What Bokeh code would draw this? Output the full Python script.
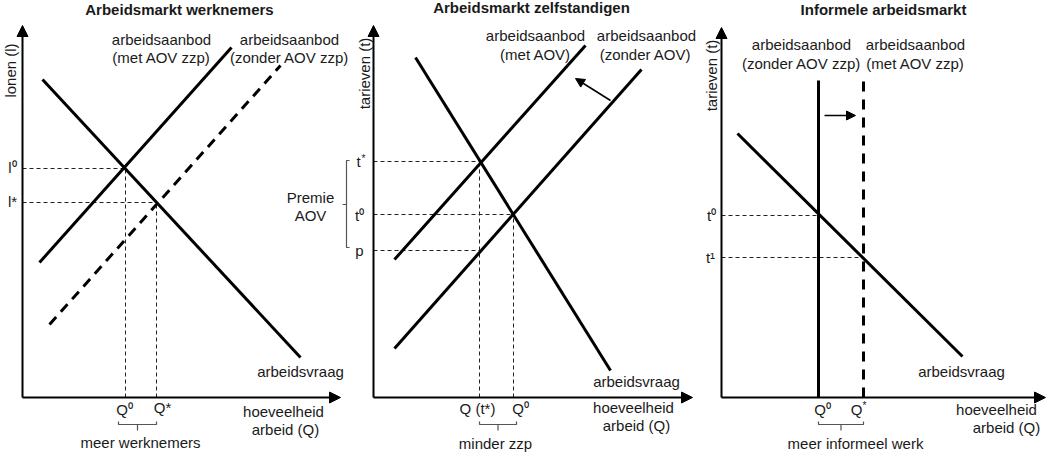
from bokeh.plotting import figure
from bokeh.models import Range1d, Arrow, NormalHead
from bokeh.core.properties import value
from bokeh.embed import file_html
from bokeh.resources import INLINE
import math

# ---------------- data (local units per panel: Q to the right, price up) ----------------
# Panel 1: Arbeidsmarkt werknemers
p1_demand_q = [20, 278]
p1_demand_l = [318, 40]
p1_supply_met_q = [17, 209]
p1_supply_met_l = [135, 350]
p1_supply_zonder_q = [27, 258]
p1_supply_zonder_l = [73, 332]
p1_eq_q = [103, 134]          # Q0, Q*
p1_eq_l = [229, 195]          # l0, l*
p1_eq_l_labels = ["l\u2070", "l*"]
p1_eq_q_labels = ["Q\u2070", "Q*"]

# Panel 2: Arbeidsmarkt zelfstandigen
p2_demand_q = [42, 237]
p2_demand_t = [340, 27]
p2_supply_met_q = [21, 212]
p2_supply_met_t = [138, 352]
p2_supply_zonder_q = [21, 268]
p2_supply_zonder_t = [49, 328]
p2_levels_t = [236, 183, 147]  # t*, t0, p
p2_levels_q = [106, 140, 106]
p2_shift_q = [237, 202]
p2_shift_t = [297, 319]

# Panel 3: Informele arbeidsmarkt
p3_demand_q = [16, 241]
p3_demand_t = [264, 41]
p3_supply_zonder_q = [97, 97]
p3_supply_zonder_t = [0, 317]
p3_supply_met_q = [142, 142]
p3_supply_met_t = [0, 320]
p3_levels_t = [182, 140]       # t0, t1
p3_levels_q = [97, 142]        # Q0, Q*
p3_shift_q = [103, 134]
p3_shift_t = [282, 282]

# ---------------- figure ----------------
W, H = 1046, 454
p = figure(width=W, height=H, x_range=Range1d(0, W), y_range=Range1d(0, H),
           output_backend="svg", toolbar_location=None, min_border=0)
p.axis.visible = False
p.grid.visible = False
p.outline_line_color = None

FONT = "Liberation Sans"
TXT = "#1a1a1a"
GRAY = "#555555"
YSHIFT = 5  # lift everything a little so the bottom texts fit the frame

def px(x):
    return x - 8

def py(y):
    return 462 - (y - YSHIFT)

origins = {1: (30, 410), 2: (381, 410), 3: (729, 410)}

def tf(panel, q, v):
    ox, oy = origins[panel]
    return [px(ox) + a for a in q], [py(oy) + b for b in v]

def curve(panel, q, v, dash="solid", width=3):
    xs, ys = tf(panel, q, v)
    p.line(xs, ys, line_width=width, line_color="black", line_dash=dash)

def thin_dash(panel, q, v):
    xs, ys = tf(panel, q, v)
    p.line(xs, ys, line_width=1, line_color="#222222", line_dash="4 3")

def axes(panel, xmax, ymax):
    ox, oy = origins[panel]
    X0, Y0 = px(ox), py(oy)
    for (xe, ye) in [(X0, Y0 + ymax), (X0 + xmax, Y0)]:
        p.add_layout(Arrow(x_start=X0, y_start=Y0, x_end=xe, y_end=ye, line_width=2,
                           line_color="black",
                           end=NormalHead(size=11, fill_color="black", line_color="black")))

def shift_arrow(panel, q, v):
    xs, ys = tf(panel, q, v)
    p.add_layout(Arrow(x_start=xs[0], y_start=ys[0], x_end=xs[1], y_end=ys[1], line_width=1.5,
                       line_color="black",
                       end=NormalHead(size=9, fill_color="black", line_color="black")))

def txt(x, y, s, size=15, bold=False, angle=0.0, align="center", color=TXT):
    p.text(x=[px(x)], y=[py(y)], text=[s], text_font=value(FONT),
           text_font_size=f"{size}px", text_font_style="bold" if bold else "normal",
           text_align=align, text_baseline="middle", text_color=color, angle=angle)

def hbracket(x0, x1, y):
    xm = (x0 + x1) / 2
    p.multi_line([[px(x0), px(x0), px(x1), px(x1)], [px(xm), px(xm)]],
                 [[py(y - 3), py(y), py(y), py(y - 3)], [py(y), py(y + 6)]],
                 line_color=GRAY, line_width=1.2)

# ---------------- panel 1 ----------------
axes(1, 318, 372)
for q, l in zip(p1_eq_q, p1_eq_l):
    thin_dash(1, [0, q], [l, l])
    thin_dash(1, [q, q], [0, l])
curve(1, p1_demand_q, p1_demand_l)
curve(1, p1_supply_met_q, p1_supply_met_l)
curve(1, p1_supply_zonder_q, p1_supply_zonder_l, dash="10 7")

txt(187, 22, "Arbeidsmarkt werknemers", bold=True)
txt(18, 83, "lonen (l)", angle=math.pi / 2)
for l, s in zip(p1_eq_l, p1_eq_l_labels):
    txt(20, 410 - l - 1, s)
txt(132, 422, p1_eq_q_labels[0])
txt(170, 420, p1_eq_q_labels[1])
txt(169, 52, "arbeidsaanbod")
txt(169, 70, "(met AOV zzp)")
txt(297, 52, "arbeidsaanbod")
txt(297, 70, "(zonder AOV zzp)")
txt(308, 384, "arbeidsvraag")
txt(291, 424, "hoeveelheid")
txt(293, 442, "arbeid (Q)")
hbracket(126, 164, 437)
txt(148, 455, "meer werknemers")

# ---------------- panel 2 ----------------
axes(2, 319, 372)
for q, t in zip(p2_levels_q, p2_levels_t):
    thin_dash(2, [0, q], [t, t])
thin_dash(2, [p2_levels_q[0], p2_levels_q[0]], [0, p2_levels_t[0]])
thin_dash(2, [p2_levels_q[1], p2_levels_q[1]], [0, p2_levels_t[1]])
curve(2, p2_demand_q, p2_demand_t)
curve(2, p2_supply_met_q, p2_supply_met_t)
curve(2, p2_supply_zonder_q, p2_supply_zonder_t)
shift_arrow(2, p2_shift_q, p2_shift_t)

txt(539, 20, "Arbeidsmarkt zelfstandigen", bold=True)
txt(372, 86, "tarieven (t)", angle=math.pi / 2)
txt(366, 410 - p2_levels_t[0], "t")
txt(371, 410 - p2_levels_t[0] - 3, "*", size=10)
txt(367, 410 - p2_levels_t[1] + 1, "t\u2070")
txt(367, 410 - p2_levels_t[2], "p")
# vertical bracket "Premie AOV"
p.multi_line([[px(357), px(354), px(354), px(357)], [px(354), px(350)]],
             [[py(173), py(173), py(260), py(260)], [py(217), py(217)]],
             line_color=GRAY, line_width=1.2)
txt(318, 210, "Premie")
txt(318, 228, "AOV")
txt(543, 48, "arbeidsaanbod")
txt(543, 67, "(met AOV)")
txt(654, 48, "arbeidsaanbod")
txt(653, 67, "(zonder AOV)")
txt(644, 394, "arbeidsvraag")
txt(641, 420, "hoeveelheid")
txt(644, 438, "arbeid (Q)")
txt(485, 421, "Q (t*)")
txt(528, 421, "Q\u2070")
hbracket(487, 524, 437)
txt(503, 456, "minder zzp")

# ---------------- panel 3 ----------------
axes(3, 324, 370)
for q, t in zip(p3_levels_q, p3_levels_t):
    thin_dash(3, [0, q], [t, t])
curve(3, p3_demand_q, p3_demand_t)
curve(3, p3_supply_zonder_q, p3_supply_zonder_t)
curve(3, p3_supply_met_q, p3_supply_met_t, dash="10 8")
shift_arrow(3, p3_shift_q, p3_shift_t)

txt(891, 22, "Informele arbeidsmarkt", bold=True)
txt(719, 88, "tarieven (t)", angle=math.pi / 2)
txt(719, 410 - p3_levels_t[0], "t\u2070")
txt(718, 410 - p3_levels_t[1], "t\u00b9")
txt(809, 57, "arbeidsaanbod")
txt(809, 76, "(zonder AOV zzp)")
txt(923, 57, "arbeidsaanbod")
txt(923, 76, "(met AOV zzp)")
txt(969, 384, "arbeidsvraag")
txt(1004, 422, "hoeveelheid")
txt(1014, 440, "arbeid (Q)")
txt(830, 422, "Q\u2070")
txt(864, 422, "Q")
txt(872, 418, "*", size=10)
hbracket(826, 871, 437)
txt(863, 456, "meer informeel werk")

open("out.html", "w").write(file_html(p, INLINE))
